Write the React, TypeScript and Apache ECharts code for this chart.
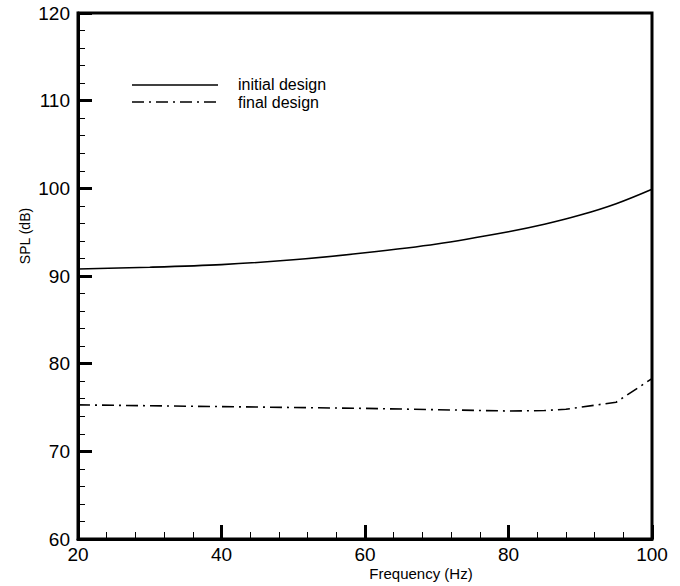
import React, { useEffect, useRef } from "react";
import * as echarts from "echarts";

const initialFreq = [20, 30, 40, 50, 60, 70, 80, 85, 90, 95, 100];
const initialSPL = [90.8, 91.0, 91.3, 91.85, 92.65, 93.65, 95.05, 95.9, 96.95, 98.25, 99.9];
const finalFreq = [20, 30, 40, 50, 60, 70, 80, 85, 88, 95, 100];
const finalSPL = [75.3, 75.2, 75.1, 75.0, 74.9, 74.75, 74.6, 74.65, 74.8, 75.6, 78.3];
const seriesNames = ["initial design", "final design"];
const xName = "Frequency (Hz)";
const yName = "SPL (dB)";

const FONT = "Liberation Sans, Arial, Helvetica, sans-serif";
const DASH_DOT = [12, 5, 2, 5];

export default function App() {
  const ref = useRef<HTMLDivElement>(null);
  useEffect(() => {
    if (!ref.current) return;
    const chart = echarts.init(ref.current, null, { renderer: "svg" });
    const pairs = (xs: number[], ys: number[]) => xs.map((x, i) => [x, ys[i]]);
    chart.setOption({
      animation: false,
      backgroundColor: "#fff",
      grid: {
        left: 78,
        right: 28,
        top: 13,
        bottom: 47,
        show: true,
        borderColor: "#000",
        borderWidth: 3,
      },
      xAxis: {
        type: "value",
        min: 20,
        max: 100,
        interval: 20,
        axisLine: { show: true, lineStyle: { color: "#000", width: 3 } },
        axisTick: { show: true, inside: true, length: 14, lineStyle: { color: "#000", width: 3 } },
        minorTick: { show: true, splitNumber: 5, length: 7, lineStyle: { color: "#000", width: 1 } },
        splitLine: { show: false },
        axisLabel: { color: "#000", fontSize: 19, fontFamily: FONT, margin: 6 },
      },
      yAxis: {
        type: "value",
        min: 60,
        max: 120,
        interval: 10,
        axisLine: { show: true, lineStyle: { color: "#000", width: 3 } },
        axisTick: { show: true, inside: true, length: 14, lineStyle: { color: "#000", width: 3 } },
        minorTick: { show: true, splitNumber: 5, length: 7, lineStyle: { color: "#000", width: 1 } },
        splitLine: { show: false },
        axisLabel: { color: "#000", fontSize: 19, fontFamily: FONT, margin: 8 },
      },
      series: [
        {
          name: seriesNames[0],
          type: "line",
          data: pairs(initialFreq, initialSPL),
          smooth: 0.3,
          showSymbol: false,
          lineStyle: { color: "#000", width: 1.6, type: "solid" },
        },
        {
          name: seriesNames[1],
          type: "line",
          data: pairs(finalFreq, finalSPL),
          smooth: false,
          showSymbol: false,
          lineStyle: { color: "#000", width: 1.6, type: DASH_DOT },
        },
      ],
      graphic: [
        {
          type: "line",
          shape: { x1: 132, y1: 85, x2: 218, y2: 85 },
          style: { stroke: "#000", lineWidth: 1.6 },
        },
        {
          type: "line",
          shape: { x1: 132, y1: 102, x2: 218, y2: 102 },
          style: { stroke: "#000", lineWidth: 1.6, lineDash: DASH_DOT },
        },
        {
          type: "text",
          x: 238,
          y: 84,
          style: { text: seriesNames[0], fill: "#000", font: `16px ${FONT}`, textVerticalAlign: "middle" },
        },
        {
          type: "text",
          x: 238,
          y: 102,
          style: { text: seriesNames[1], fill: "#000", font: `16px ${FONT}`, textVerticalAlign: "middle" },
        },
        {
          type: "text",
          x: 421,
          y: 573,
          style: { text: xName, fill: "#000", font: `15px ${FONT}`, textAlign: "center", textVerticalAlign: "middle" },
        },
        {
          type: "text",
          x: 25,
          y: 236,
          rotation: Math.PI / 2,
          style: { text: yName, fill: "#000", font: `14px ${FONT}`, textAlign: "center", textVerticalAlign: "middle" },
        },
      ],
    });
    return () => chart.dispose();
  }, []);
  return <div ref={ref} style={{ width: 680, height: 586, position: "absolute", left: 0, top: 0 }} />;
}
